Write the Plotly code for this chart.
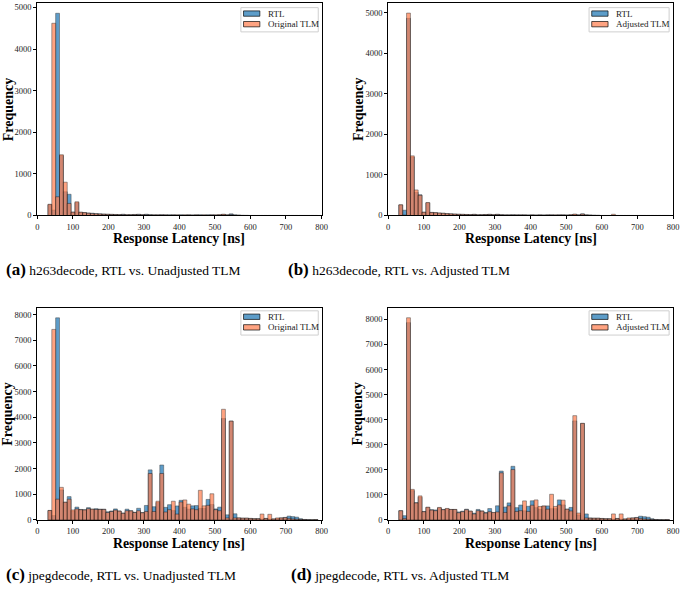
import numpy as np
import plotly.graph_objects as go

# ---- histogram bins (shared by all panels) ----
BIN_START, BIN_END, N_BINS = 30, 790, 70

# ---- h263decode ----
RTL_H263 = [260, 130, 4860, 1440, 570, 510, 80, 310, 75, 70,
            60, 55, 45, 40, 35, 30, 28, 25, 22, 30,
            18, 20, 25, 30, 20, 30, 20, 15, 15, 18,
            15, 15, 15, 12, 15, 12, 15, 12, 15, 15,
            12, 15, 15, 12, 15, 25, 15, 40, 15, 10,
            5, 3, 0, 0, 0, 0, 0, 0, 0, 0,
            0, 0, 0, 0, 0, 0, 0, 0, 0, 0]
ORIG_H263 = [270, 4620, 450, 1460, 800, 290, 80, 330, 80, 70,
             55, 45, 40, 35, 30, 28, 25, 22, 20, 20,
             18, 18, 20, 20, 18, 18, 15, 15, 15, 15,
             15, 12, 15, 15, 12, 15, 15, 12, 15, 12,
             15, 12, 15, 15, 20, 30, 15, 20, 10, 5,
             0, 0, 0, 0, 0, 0, 0, 0, 0, 0,
             0, 0, 0, 0, 0, 0, 0, 0, 0, 0]
ADJ_H263 = [265, 10, 4990, 1470, 630, 500, 80, 320, 75, 70,
            60, 55, 45, 40, 35, 30, 28, 25, 22, 25,
            18, 20, 22, 25, 20, 25, 18, 15, 15, 15,
            15, 15, 15, 12, 15, 12, 15, 12, 15, 15,
            15, 15, 15, 12, 20, 35, 15, 35, 15, 10,
            5, 3, 0, 0, 0, 30, 0, 0, 0, 0,
            0, 0, 0, 0, 0, 0, 0, 0, 0, 0]

# ---- jpegdecode ----
RTL_JPEG = [370, 170, 7870, 1170, 690, 910, 340, 500, 410, 400,
            480, 420, 440, 420, 420, 320, 350, 430, 350, 270,
            420, 360, 300, 455, 290, 565, 1950, 515, 680, 2140,
            490, 595, 365, 545, 765, 490, 420, 550, 560, 450,
            450, 800, 600, 430, 500, 3950, 200, 3850, 240, 80,
            70, 70, 60, 50, 50, 30, 60, 30, 40, 50,
            80, 100, 150, 130, 110, 50, 20, 10, 5, 10]
ORIG_JPEG = [370, 7420, 810, 1270, 690, 810, 390, 430, 400, 390,
             440, 420, 410, 410, 410, 290, 330, 385, 345, 260,
             360, 355, 290, 360, 280, 330, 1810, 330, 730, 1810,
             310, 400, 730, 230, 700, 780, 615, 430, 400, 1155,
             550, 570, 1020, 400, 360, 4310, 80, 3850, 80, 80,
             70, 70, 60, 50, 50, 230, 60, 220, 40, 80,
             80, 90, 60, 40, 30, 20, 10, 5, 5, 10]
ADJ_JPEG = [370, 60, 8065, 1220, 680, 960, 330, 510, 395, 370,
            500, 410, 460, 420, 420, 290, 330, 410, 355, 240,
            370, 355, 275, 330, 300, 320, 1880, 300, 565, 2010,
            340, 370, 760, 340, 590, 800, 540, 560, 430, 1025,
            540, 600, 790, 430, 360, 4160, 275, 3855, 80, 70,
            70, 70, 60, 50, 50, 240, 60, 240, 40, 80,
            80, 90, 60, 40, 30, 20, 10, 5, 5, 10]

X_TICKS = [0, 100, 200, 300, 400, 500, 600, 700, 800]
CAPTIONS = ["<b>(a)</b>", "<b>(b)</b>", "<b>(c)</b>", "<b>(d)</b>"]
CAPTION_TEXT = ["h263decode, RTL vs. Unadjusted TLM",
                "h263decode, RTL vs. Adjusted TLM",
                "jpegdecode, RTL vs. Unadjusted TLM",
                "jpegdecode, RTL vs. Adjusted TLM"]
LEGEND_NAMES = [("RTL", "Original TLM"), ("RTL", "Adjusted TLM"),
                ("RTL", "Original TLM"), ("RTL", "Adjusted TLM")]

edges = np.linspace(BIN_START, BIN_END, N_BINS + 1)
centers = (edges[:-1] + edges[1:]) / 2
width = edges[1] - edges[0]

W, H = 685, 590
FONT = "Liberation Serif"
BLUE = "#1f77b4"
ORANGE = "#ff7f50"
ALPHA = 0.72
BLUE_A = "rgba(31,119,180,0.72)"
ORANGE_A = "rgba(255,127,80,0.72)"

panels = [
    dict(rtl=RTL_H263, tlm=ORIG_H263, xd=(35.7, 323.3), yb=216.7, yt=2.2),
    dict(rtl=RTL_H263, tlm=ADJ_H263, xd=(390.7, 679.0), yb=216.7, yt=2.0),
    dict(rtl=RTL_JPEG, tlm=ORIG_JPEG, xd=(35.7, 323.3), yb=524.3, yt=309.9),
    dict(rtl=RTL_JPEG, tlm=ADJ_JPEG, xd=(390.7, 679.0), yb=524.3, yt=309.8),
]


def px(xp):
    return xp / W


def py(yp):
    return (H - yp) / H


fig = go.Figure()
layout = dict(width=W, height=H, margin=dict(l=0, r=0, t=0, b=0),
              plot_bgcolor="white", paper_bgcolor="white",
              barmode="overlay", showlegend=False,
              font=dict(family=FONT, color="black"))
annotations = []
shapes = []

for i, p in enumerate(panels):
    n = i + 1
    xa = "x" if n == 1 else f"x{n}"
    ya = "y" if n == 1 else f"y{n}"
    for vals, name, col in ((p["rtl"], LEGEND_NAMES[i][0], BLUE),
                            (p["tlm"], LEGEND_NAMES[i][1], ORANGE)):
        fig.add_trace(go.Bar(
            x=centers, y=vals, width=width, name=name, xaxis=xa, yaxis=ya,
            marker=dict(color=col, opacity=ALPHA,
                        line=dict(color="rgba(0,0,0,0.85)", width=0.6)),
            hoverinfo="x+y"))
    ymax = max(max(p["rtl"]), max(p["tlm"])) * 1.05
    x0, x1 = p["xd"]
    axis_common = dict(showline=True, linecolor="black", linewidth=1,
                       mirror=True, ticks="outside", ticklen=3,
                       tickwidth=0.8, tickcolor="black", showgrid=False,
                       zeroline=False,
                       tickfont=dict(family=FONT, size=8.5, color="#222"))
    layout["xaxis" if n == 1 else f"xaxis{n}"] = dict(
        domain=[px(x0), px(x1)], range=[0, 800], tickvals=X_TICKS,
        anchor=ya, **axis_common)
    layout["yaxis" if n == 1 else f"yaxis{n}"] = dict(
        domain=[py(p["yb"]), py(p["yt"])], range=[0, ymax],
        dtick=1000, anchor=xa, **axis_common)

    # ---- hand-drawn legend (matplotlib style) ----
    left = x0 < 100
    bx0, bx1 = (241.7, 320.0) if left else (594.0, 675.0)
    by0 = 6.7 if n <= 2 else 313.0
    by1 = by0 + 24.5
    shapes.append(dict(type="rect", xref="paper", yref="paper",
                       x0=px(bx0), x1=px(bx1), y0=py(by1), y1=py(by0),
                       line=dict(color="#cfcfcf", width=1),
                       fillcolor="rgba(255,255,255,0.85)", layer="above"))
    pxa = bx0 + 2.7
    for j, (fill, label) in enumerate(((BLUE_A, LEGEND_NAMES[i][0]),
                                       (ORANGE_A, LEGEND_NAMES[i][1]))):
        cy = by0 + 6.0 + j * 10.7
        shapes.append(dict(type="rect", xref="paper", yref="paper",
                           x0=px(pxa), x1=px(pxa + 16.5),
                           y0=py(cy + 2.7), y1=py(cy - 2.7),
                           line=dict(color="rgba(0,0,0,0.85)", width=0.8),
                           fillcolor=fill, layer="above"))
        annotations.append(dict(
            text=label, xref="paper", yref="paper",
            x=px(pxa + 22.5), y=py(cy), showarrow=False,
            xanchor="left", yanchor="middle",
            font=dict(family=FONT, size=9, color="#222")))

    # axis titles
    annotations.append(dict(
        text="<b>Response Latency [ns]</b>", xref="paper", yref="paper",
        x=px((x0 + x1) / 2), y=py(p["yb"] + 23.5),
        showarrow=False, xanchor="center", yanchor="middle",
        font=dict(family=FONT, size=13.8, color="black")))
    annotations.append(dict(
        text="<b>Frequency</b>", xref="paper", yref="paper",
        x=px(6 if left else 360),
        y=py((p["yb"] + p["yt"]) / 2), textangle=-90,
        showarrow=False, xanchor="center", yanchor="middle",
        font=dict(family=FONT, size=14, color="black")))
    # captions
    cap_x = [2, 287, 2, 290][i]
    cap_y = [271, 271, 579, 579][i]
    annotations.append(dict(
        text=f"<span style='font-size:17px'>{CAPTIONS[i]}</span> {CAPTION_TEXT[i]}",
        xref="paper", yref="paper", x=px(cap_x), y=py(cap_y),
        showarrow=False, xanchor="left", yanchor="middle",
        font=dict(family=FONT, size=13.5, color="black")))

layout["annotations"] = annotations
layout["shapes"] = shapes
fig.update_layout(**layout)
fig.write_html("out.html",
               config={"displayModeBar": False},
               post_script="document.body.style.margin='0px';"
                           "document.body.style.padding='0px';")
